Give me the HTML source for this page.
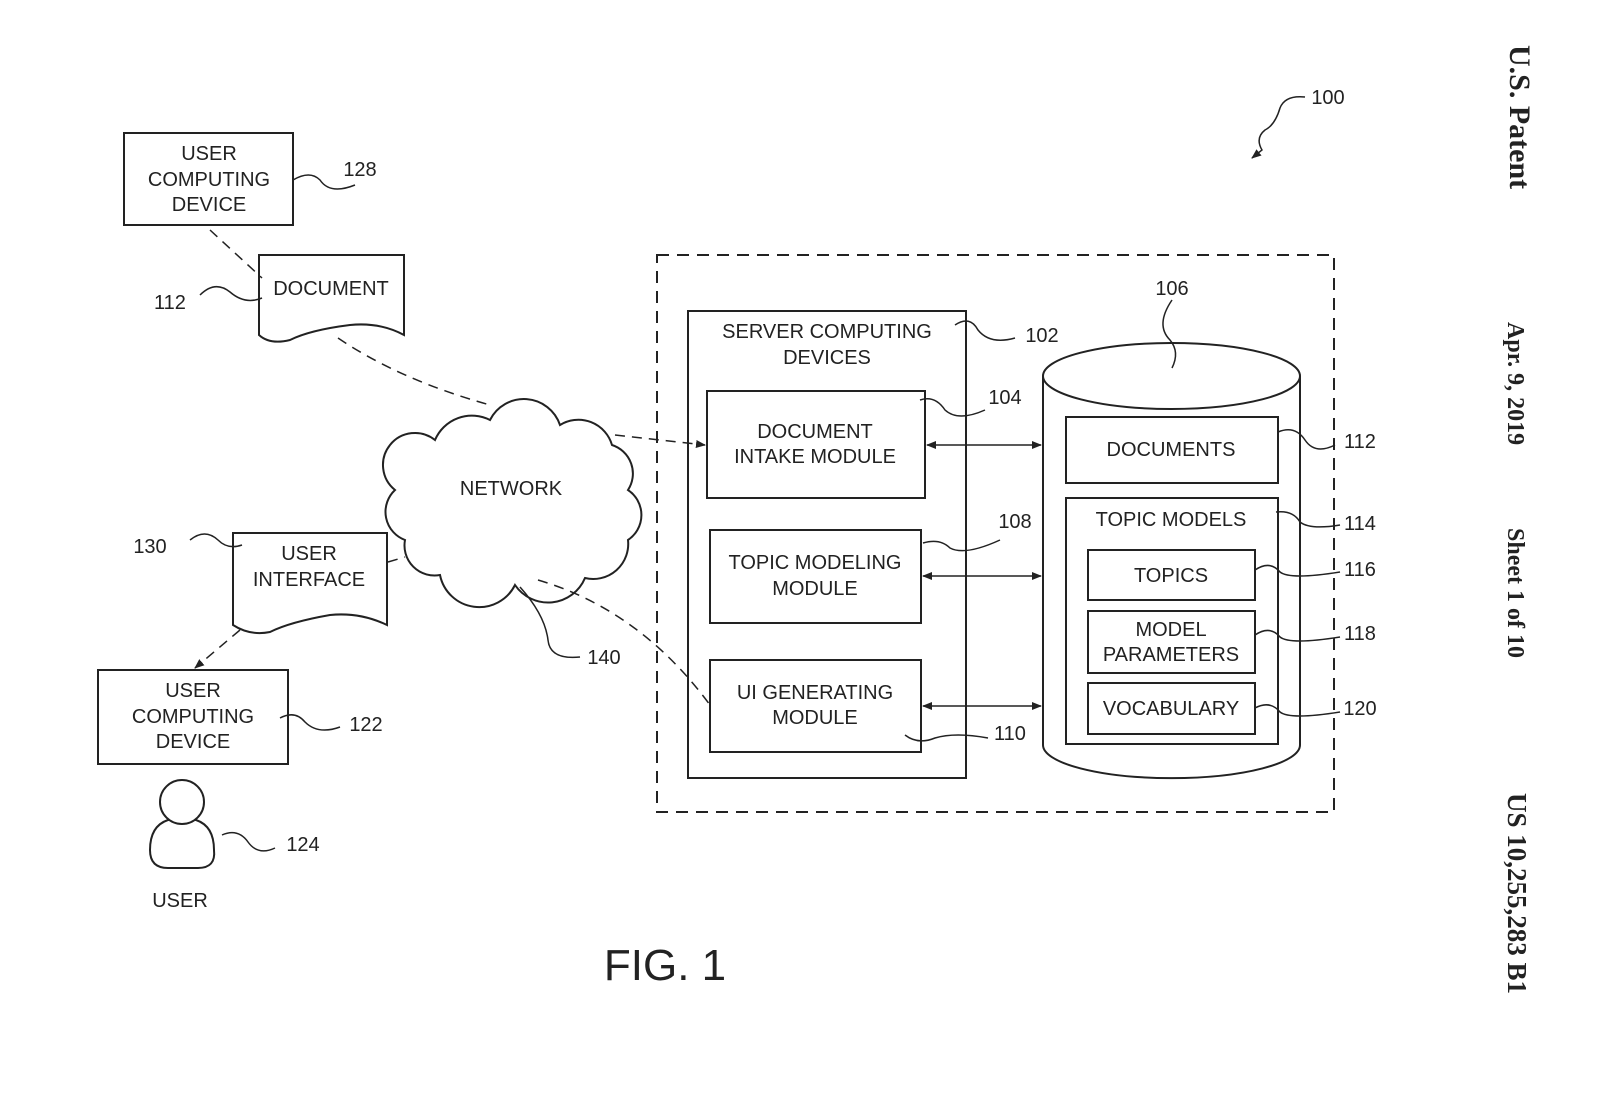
<!DOCTYPE html>
<html><head><style>body{margin:0;background:#fff}svg{display:block}text{font-family:"Liberation Sans",sans-serif;font-size:20px;fill:#222}</style></head>
<body>
<svg width="1598" height="1094" viewBox="0 0 1598 1094" xmlns="http://www.w3.org/2000/svg">
<defs><marker id="a" markerWidth="10" markerHeight="10" refX="9" refY="5" orient="auto-start-reverse" markerUnits="userSpaceOnUse"><path d="M0,1 L10,5 L0,9 Z" fill="#222"/></marker></defs>
<g fill="none" stroke="#222" stroke-width="2">
<rect x="124" y="133" width="169" height="92"/>
<path d="M259,255 H404 V335 Q380,322 350,325 Q310,330 290,340 Q270,345 259,335 Z" fill="#fff"/>
<path d="M233,533 H387 V625 Q360,612 330,615 Q290,622 270,632 Q250,636 233,625 Z"/>
<rect x="98" y="670" width="190" height="94"/>
<rect x="657" y="255" width="677" height="557" stroke-dasharray="12,8"/>
<rect x="688" y="311" width="278" height="467"/>
<rect x="707" y="391" width="218" height="107"/>
<rect x="710" y="530" width="211" height="93"/>
<rect x="710" y="660" width="211" height="92"/>
<path d="M1043,376 V745 A128,33 0 0 0 1300,745 V376"/>
<ellipse cx="1171.5" cy="376" rx="128.5" ry="33"/>
<rect x="1066" y="417" width="212" height="66"/>
<rect x="1066" y="498" width="212" height="246"/>
<rect x="1088" y="550" width="167" height="50"/>
<rect x="1088" y="611" width="167" height="62"/>
<rect x="1088" y="683" width="167" height="51"/>
<path d="M435,440 A40,40 0 0 1 490,420 A38,38 0 0 1 560,425 A35,35 0 0 1 612,445 A30,30 0 0 1 628,490 A30,30 0 0 1 628,540 A35,35 0 0 1 585,578 A40,40 0 0 1 515,585 A40,40 0 0 1 440,575 A30,30 0 0 1 405,540 A30,30 0 0 1 395,490 A30,30 0 0 1 435,440 Z" fill="#fff"/>
<g stroke-dasharray="10,7" stroke-width="1.5">
<path d="M210,230 L262,278"/>
<path d="M338,338 Q400,380 490,405"/>
<path d="M615,435 L705,445" marker-end="url(#a)"/>
<path d="M388,562 L405,557"/>
<path d="M240,630 L195,668" marker-end="url(#a)"/>
<path d="M538,580 Q640,610 710,705"/>
</g>
<g stroke-width="1.5">
<path d="M927,445 H1041" marker-start="url(#a)" marker-end="url(#a)"/>
<path d="M923,576 H1041" marker-start="url(#a)" marker-end="url(#a)"/>
<path d="M923,706 H1041" marker-start="url(#a)" marker-end="url(#a)"/>
<path d="M293,180 Q310,170 320,180 Q330,195 355,185"/>
<path d="M200,295 Q215,280 230,292 Q245,305 262,298"/>
<path d="M190,540 Q205,528 218,540 Q228,550 242,545"/>
<path d="M280,718 Q295,710 305,722 Q318,735 340,727"/>
<path d="M222,835 Q238,828 248,842 Q258,856 275,848"/>
<path d="M955,325 Q970,315 978,330 Q990,345 1015,338"/>
<path d="M920,400 Q935,395 945,410 Q958,422 985,410"/>
<path d="M923,543 Q940,538 950,548 Q965,556 1000,540"/>
<path d="M905,735 Q918,745 935,738 Q955,732 988,738"/>
<path d="M1172,300 Q1155,325 1170,340 Q1180,352 1172,368"/>
<path d="M1278,432 Q1295,425 1305,440 Q1315,455 1335,445"/>
<path d="M1276,512 Q1293,510 1300,522 Q1310,530 1340,525"/>
<path d="M1255,570 Q1270,560 1280,572 Q1290,580 1340,572"/>
<path d="M1255,635 Q1270,625 1280,637 Q1290,645 1340,637"/>
<path d="M1255,708 Q1270,700 1280,712 Q1290,720 1340,712"/>
<path d="M520,587 Q545,615 548,640 Q550,660 580,657"/>
<path d="M1305,97 Q1285,95 1280,108 Q1275,125 1265,130 Q1255,138 1262,150 L1252,158" marker-end="url(#a)"/>
</g>
<path d="M168,820 Q150,826 150,850 Q150,868 168,868 H198 Q216,868 214,850 Q214,826 196,820 Z" stroke-width="2"/>
<circle cx="182" cy="802" r="22" fill="#fff" stroke-width="2"/>
</g>
<g text-anchor="middle">
<text x="209" y="160">USER</text><text x="209" y="186">COMPUTING</text><text x="209" y="211">DEVICE</text>
<text x="331" y="295">DOCUMENT</text>
<text x="309" y="560">USER</text><text x="309" y="586">INTERFACE</text>
<text x="193" y="697">USER</text><text x="193" y="723">COMPUTING</text><text x="193" y="748">DEVICE</text>
<text x="180" y="907">USER</text>
<text x="511" y="495">NETWORK</text>
<text x="827" y="338">SERVER COMPUTING</text><text x="827" y="364">DEVICES</text>
<text x="815" y="438">DOCUMENT</text><text x="815" y="463">INTAKE MODULE</text>
<text x="815" y="569">TOPIC MODELING</text><text x="815" y="595">MODULE</text>
<text x="815" y="699">UI GENERATING</text><text x="815" y="724">MODULE</text>
<text x="1171" y="456">DOCUMENTS</text>
<text x="1171" y="526">TOPIC MODELS</text>
<text x="1171" y="582">TOPICS</text>
<text x="1171" y="636">MODEL</text><text x="1171" y="661">PARAMETERS</text>
<text x="1171" y="715">VOCABULARY</text>
<text x="360" y="176">128</text><text x="170" y="309">112</text><text x="150" y="553">130</text>
<text x="366" y="731">122</text><text x="303" y="851">124</text><text x="604" y="664">140</text>
<text x="1042" y="342">102</text><text x="1005" y="404">104</text><text x="1015" y="528">108</text>
<text x="1010" y="740">110</text><text x="1172" y="295">106</text>
<text x="1360" y="448">112</text><text x="1360" y="530">114</text><text x="1360" y="576">116</text>
<text x="1360" y="640">118</text><text x="1360" y="715">120</text>
<text x="1328" y="104">100</text>
<text x="665" y="980" style="font-size:44px">FIG. 1</text>
</g>
<g>
<text transform="translate(1510,45) rotate(90)" style="font-family:'Liberation Serif',serif;font-weight:bold;font-size:30px">U.S. Patent</text>
<text transform="translate(1508,322) rotate(90)" style="font-family:'Liberation Serif',serif;font-weight:bold;font-size:24px">Apr. 9, 2019</text>
<text transform="translate(1508,528) rotate(90)" style="font-family:'Liberation Serif',serif;font-weight:bold;font-size:24px">Sheet 1 of 10</text>
<text transform="translate(1508,793) rotate(90)" style="font-family:'Liberation Serif',serif;font-weight:bold;font-size:27px">US 10,255,283 B1</text>
</g>
</svg>
</body></html>
